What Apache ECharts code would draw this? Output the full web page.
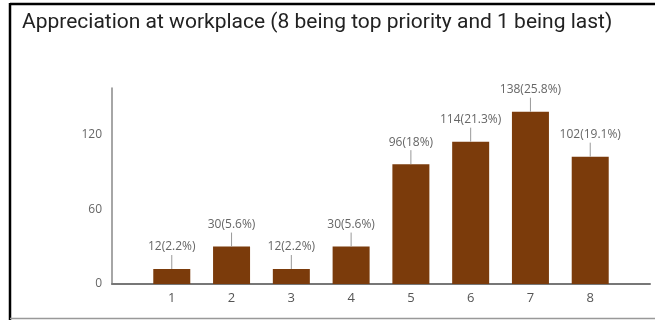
<!DOCTYPE html>
<html>
<head>
<meta charset="utf-8">
<script src="https://cdn.jsdelivr.net/npm/echarts@6/dist/echarts.min.js"></script>
<style>
  html, body { margin: 0; padding: 0; background: #fff; }
  #chart { width: 655px; height: 320px; }
</style>
</head>
<body>
<div id="chart"></div>
<script>
// Priority ranks (1 = last, 8 = top priority)
const categories = ['1', '2', '3', '4', '5', '6', '7', '8'];
// Number of responses for each rank
const counts = [12, 30, 12, 30, 96, 114, 138, 102];
// Share of responses for each rank, in percent
const percents = ['2.2', '5.6', '2.2', '5.6', '18', '21.3', '25.8', '19.1'];
// Value-axis tick labels
const yTicks = [0, 60, 120];

// One empty slot on each side of the ranks, so rank 1 sits one step in from the axis
const axisCategories = [''].concat(categories, ['']);
const barData = [null].concat(counts, [null]);
const stemData = counts.map((v, i) => [i + 1, v]);

const chart = echarts.init(document.getElementById('chart'));
chart.setOption({
  animation: false,
  backgroundColor: '#ffffff',
  title: {
    text: 'Appreciation at workplace (8 being top priority and 1 being last)',
    left: 17,
    top: 7,
    textStyle: { fontFamily: 'Roboto', fontSize: 21, fontWeight: 'normal', color: '#222' }
  },
  graphic: [
    { type: 'line', shape: { x1: 10, y1: 4, x2: 655, y2: 4 }, style: { stroke: '#000', lineWidth: 2.5 } },
    { type: 'line', shape: { x1: 10, y1: 3, x2: 10, y2: 320 }, style: { stroke: '#000', lineWidth: 2.5 } },
    { type: 'line', shape: { x1: 10, y1: 318.5, x2: 655, y2: 318.5 }, style: { stroke: '#999', lineWidth: 1.5 } }
  ],
  grid: { left: 112, right: 5, top: 88, bottom: 36 },
  xAxis: {
    type: 'category',
    data: axisCategories,
    boundaryGap: false,
    axisLine: { lineStyle: { color: '#777', width: 2 } },
    axisTick: { show: false },
    axisLabel: { color: '#555', fontSize: 13, margin: 8, fontFamily: 'Open Sans', interval: 0 },
    splitLine: { show: false }
  },
  yAxis: {
    type: 'value',
    min: 0,
    max: 157,
    interval: 60,
    axisLine: { show: true, lineStyle: { color: '#888', width: 1.5 } },
    axisTick: { show: false },
    splitLine: { show: false },
    axisLabel: {
      color: '#666',
      fontSize: 12,
      fontFamily: 'Open Sans',
      margin: 10,
      showMaxLabel: false,
      formatter: v => (yTicks.indexOf(v) >= 0 ? String(v) : '')
    }
  },
  series: [
    {
      type: 'bar',
      data: barData,
      barWidth: 37,
      itemStyle: { color: '#7B3B0B' },
      label: {
        show: true,
        position: 'top',
        distance: 16,
        color: '#666',
        fontSize: 12,
        fontFamily: 'Open Sans',
        formatter: p => p.value == null ? '' : p.value + '(' + percents[p.dataIndex - 1] + '%)'
      }
    },
    {
      // short leader stem from each bar top up to its value label
      type: 'custom',
      data: stemData,
      renderItem: (params, api) => {
        const p = api.coord([api.value(0), api.value(1)]);
        return {
          type: 'line',
          shape: { x1: p[0], y1: p[1], x2: p[0], y2: p[1] - 14 },
          style: { stroke: '#999', lineWidth: 1 }
        };
      },
      z: 3
    }
  ]
});
</script>
</body>
</html>
